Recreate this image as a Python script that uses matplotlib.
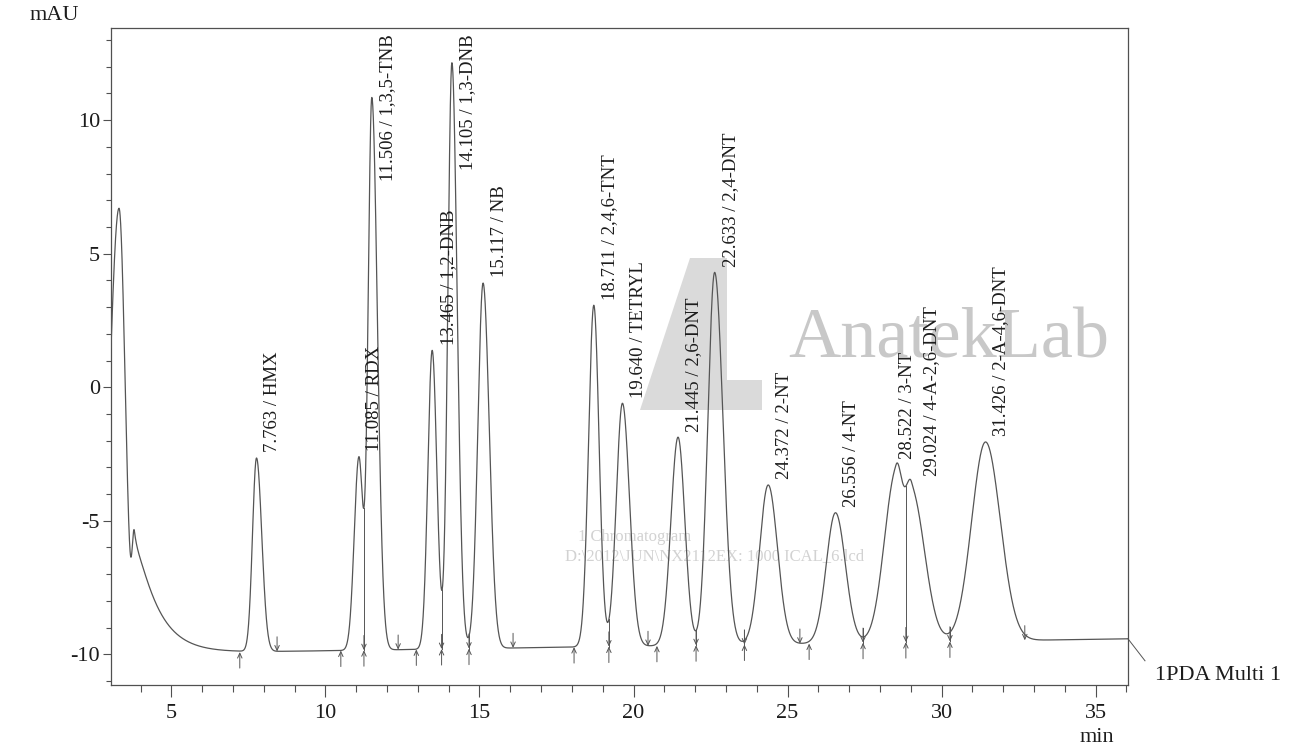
import numpy as np
import matplotlib
matplotlib.use("Agg")
import matplotlib.pyplot as plt
from matplotlib.ticker import MultipleLocator
from matplotlib.patches import Polygon

# ---- peak table (retention time in min, apex height in mAU, half widths in min)
retention = [7.763, 11.085, 11.506, 13.465, 14.105, 15.117, 18.711, 19.640,
             21.445, 22.633, 24.372, 26.556, 28.522, 29.024, 31.426]
compounds = ["HMX", "RDX", "1,3,5-TNB", "1,2-DNB", "1,3-DNB", "NB", "2,4,6-TNT",
             "TETRYL", "2,6-DNT", "2,4-DNT", "2-NT", "4-NT", "3-NT",
             "4-A-2,6-DNT", "2-A-4,6-DNT"]
apex_mau = [-2.65, -2.60, 10.85, 1.38, 12.15, 3.90, 3.07, -0.60,
            -1.87, 4.30, -3.66, -4.70, -2.90, -3.55, -2.05]
width_left = [0.13, 0.15, 0.12, 0.14, 0.13, 0.17, 0.17, 0.20,
              0.23, 0.22, 0.28, 0.30, 0.38, 0.21, 0.45]
width_right = [0.17, 0.13, 0.18, 0.15, 0.17, 0.20, 0.17, 0.23,
               0.22, 0.27, 0.30, 0.32, 0.21, 0.42, 0.48]
# horizontal label offsets from the apex (points)
label_dx = [11.5, 11.5, 11.5, 11.5, 11.5, 11.5, 11.5, 11.5,
            11.5, 11.5, 11.5, 11.5, 8.0, 14.5, 11.0]

# solvent front and the injection disturbance that follows it
solvent_rt, solvent_apex, solvent_wl, solvent_wr = 3.30, 6.7, 0.30, 0.20
tail_rt, tail_height, tail_rise, tail_round, tail_decay = 3.80, 3.85, 0.07, 0.25, 0.68

# drifting detector baseline (min, mAU)
baseline_t = [7.0, 36.05]
baseline_mau = [-9.92, -9.42]

# integration events (min)
peak_starts = [7.22, 10.50, 12.95, 18.07, 20.76, 25.70]
peak_ends = [8.43, 12.36, 16.09, 20.47, 25.40, 32.70]
peak_splits = [11.25, 13.77, 14.66, 19.20, 22.03, 23.60, 27.45, 28.84, 30.27]

x_range = (3.04, 36.05)
y_range = (-11.15, 13.45)

TRACE = "#555555"
INK = "#1c1c1c"
SERIF = ["Liberation Serif", "DejaVu Serif"]

plt.rcParams["font.family"] = SERIF
plt.rcParams["axes.unicode_minus"] = False


def bigauss(t, center, wl, wr):
    w = np.where(t < center, wl, wr)
    return np.exp(-0.5 * ((t - center) / w) ** 2)


def baseline(t):
    slope = (baseline_mau[1] - baseline_mau[0]) / (baseline_t[1] - baseline_t[0])
    return baseline_mau[0] + slope * (np.asarray(t, float) - baseline_t[0])


def solvent(t):
    t = np.asarray(t, float)
    front = (solvent_apex - baseline(solvent_rt)) * bigauss(t, solvent_rt, solvent_wl, solvent_wr)
    d = t - tail_rt
    tail = np.where(d < 0,
                    np.exp(-0.5 * (d / tail_rise) ** 2),
                    np.exp(-(np.sqrt(d ** 2 + tail_round ** 2) - tail_round) / tail_decay))
    return front + tail_height * tail


rt = np.array(retention)
# peak amplitudes so that the summed trace passes through each apex value
shape_at_apex = np.array([[bigauss(np.array([ti]), rj, wl, wr)[0]
                           for rj, wl, wr in zip(rt, width_left, width_right)]
                          for ti in rt])
target = np.array(apex_mau) - baseline(rt) - solvent(rt)
amplitude = np.linalg.solve(shape_at_apex, target)


def signal(t):
    t = np.asarray(t, float)
    s = baseline(t) + solvent(t)
    for a, rj, wl, wr in zip(amplitude, rt, width_left, width_right):
        s = s + a * bigauss(t, rj, wl, wr)
    return s


t = np.linspace(x_range[0], x_range[1], 8000)
y = signal(t)

fig = plt.figure(figsize=(12.94, 7.5), dpi=100)
ax = fig.add_axes([111 / 1294, 1 - 685 / 750, (1128 - 111) / 1294, (685 - 28) / 750])
ax.set_zorder(2)
ax.patch.set_alpha(0)

# faint watermark behind the chromatogram
logo_px = [(640, 410), (690, 258), (727, 258), (727, 380), (762, 380), (762, 410)]
logo = Polygon([(px / 1294, 1 - py / 750) for px, py in logo_px], closed=True,
               transform=fig.transFigure, facecolor="#dadada", edgecolor="none", zorder=0)
fig.patches.append(logo)
fig.text(788 / 1294, 1 - 357 / 750, "AnatekLab", fontsize=52, color="#c8c8c8",
         va="baseline", ha="left", zorder=0)
fig.text(578 / 1294, 1 - 537 / 750, "1 Chromatogram", fontsize=12, color="#d2d2d2",
         va="center", ha="left", zorder=0)
fig.text(565 / 1294, 1 - 556 / 750, r"D:\2012\JUN\NX2112EX: 1000 ICAL_6.lcd", fontsize=12,
         color="#d2d2d2", va="center", ha="left", zorder=0)

ax.plot(t, y, color=TRACE, lw=0.9, zorder=3)

# integration marks
arrow_kw = dict(arrowstyle="->,head_length=0.35,head_width=0.16", lw=0.7,
                color=TRACE, shrinkA=0, shrinkB=0)
for ts in peak_starts:
    b = baseline(ts)
    ax.annotate("", xy=(ts, b), xytext=(ts, b - 0.6), arrowprops=arrow_kw, zorder=4)
for te in peak_ends:
    b = baseline(te)
    ax.annotate("", xy=(te, b), xytext=(te, b + 0.55), arrowprops=arrow_kw, zorder=4)
for tsp in peak_splits:
    b = baseline(tsp)
    top = max(signal(tsp), b + 0.55)
    ax.plot([tsp, tsp], [b, top], color=TRACE, lw=0.7, zorder=4)
    ax.annotate("", xy=(tsp, b), xytext=(tsp, b - 0.6), arrowprops=arrow_kw, zorder=4)
    ax.annotate("", xy=(tsp, b), xytext=(tsp, b + 0.55), arrowprops=arrow_kw, zorder=4)

ax.set_xlim(*x_range)
ax.set_ylim(*y_range)

# peak labels
labels = []
for r, name, h, dx in zip(retention, compounds, apex_mau, label_dx):
    txt = ax.annotate(f"{r:.3f} / {name}", xy=(r, h), xytext=(dx, 4),
                      textcoords="offset points", rotation=90, ha="center",
                      va="bottom", fontsize=13.5, color=INK, zorder=5)
    labels.append(txt)

ax.xaxis.set_major_locator(MultipleLocator(5))
ax.xaxis.set_minor_locator(MultipleLocator(1))
ax.yaxis.set_major_locator(MultipleLocator(5))
ax.yaxis.set_minor_locator(MultipleLocator(1))
ax.tick_params(axis="both", which="both", direction="out", colors="#505050",
               labelcolor=INK, labelsize=16, width=0.8)
ax.tick_params(axis="x", which="major", length=8.5, pad=5)
ax.tick_params(axis="x", which="minor", length=5)
ax.tick_params(axis="y", which="major", length=6, pad=2)
ax.tick_params(axis="y", which="minor", length=3.5)
for sp in ax.spines.values():
    sp.set_color("#505050")
    sp.set_linewidth(0.9)

fig.text(30 / 1294, 1 - 15 / 750, "mAU", fontsize=16, color=INK, ha="left", va="center")
fig.text(1097 / 1294, 1 - 738 / 750, "min", fontsize=16, color=INK, ha="center", va="center")

# channel name with leader line from the end of the trace
end_t = x_range[1]
end_y = float(signal(end_t))
p0 = ax.transData.transform((end_t, end_y))
line_fig = fig.transFigure.inverted().transform([p0, p0 + np.array([17, -22])])
fig.add_artist(plt.Line2D(line_fig[:, 0], line_fig[:, 1], color=TRACE, lw=0.7))
fig.text(1155 / 1294, 1 - 676 / 750, "1PDA Multi 1", fontsize=16, color=INK,
         ha="left", va="center")

# keep tall-peak labels inside the plotting area
fig.canvas.draw()
renderer = fig.canvas.get_renderer()
ax_top = ax.get_window_extent(renderer).y1
for txt in labels:
    bb = txt.get_window_extent(renderer)
    if bb.y1 > ax_top - 6:
        txt.xyann = (txt.xyann[0], txt.xyann[1] - (bb.y1 - (ax_top - 6)) * 72 / fig.dpi)

fig.savefig("out.png", dpi=100, facecolor="white")
